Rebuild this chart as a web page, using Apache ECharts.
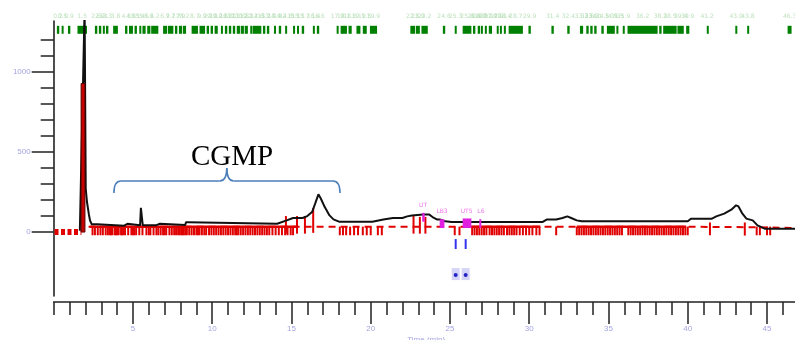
<!DOCTYPE html>
<html>
<head>
<meta charset="utf-8">
<script src="https://cdn.jsdelivr.net/npm/echarts@6/dist/echarts.min.js"></script>
<style>
html, body { margin: 0; padding: 0; background: #fff; }
#chart { width: 795px; height: 340px; }
</style>
</head>
<body>
<div id="chart"></div>
<script>
// detector trace, [time (min), signal]
var trace = [
  [1.65, 8], [1.72, 12], [1.95, 1400], [2.02, 272], [2.08, 272], [2.1, 188], [2.18, 188], [2.22, 110],
  [2.29, 73], [2.4, 48], [2.75, 48], [2.8, 40], [4.45, 40], [4.5, 52], [4.65, 52], [4.7, 42],
  [5.45, 42], [5.5, 152], [5.58, 140], [5.62, 42], [6.45, 42], [6.5, 52], [6.7, 52], [6.75, 44],
  [8.3, 44], [8.35, 62], [8.5, 62], [8.55, 52], [14.1, 52], [14.7, 73], [15.1, 88], [15.7, 88],
  [16.0, 100], [16.3, 125], [16.5, 179], [16.7, 236], [16.85, 210], [17.1, 156], [17.4, 104],
  [17.65, 79], [18.0, 65], [20.1, 65], [20.15, 73], [20.8, 79], [21.4, 88], [22.0, 88], [22.3, 98],
  [22.6, 104], [23.3, 109], [23.7, 109], [23.9, 94], [24.2, 78], [24.4, 78], [24.7, 67], [25.1, 63],
  [30.85, 63], [31.1, 78], [31.7, 78], [32.1, 88], [32.4, 98], [32.65, 88], [33.0, 73], [33.3, 67],
  [35.9, 67], [36.0, 76], [36.1, 67], [40.0, 67], [40.2, 83], [41.5, 83], [41.8, 98], [42.3, 115],
  [42.75, 140], [43.05, 167], [43.2, 160], [43.45, 115], [43.7, 84], [44.1, 73], [44.4, 42],
  [44.85, 21], [47, 21]
];

// integrated first peak: [start, end, height]
var mainPeak = [[1.73, 1.97, 929]];

// red baselines
var baseLeft = [[0.05, 0], [1.75, 0]];
var baseDashed = [[2.2, 33], [40, 33], [44.5, 30], [47, 25]];
var baseSolid = [[2.3, 33], [15.3, 33], [15.31, '-'], [26.3, 33], [30.7, 33], [30.71, '-'], [33.0, 33], [39.9, 33]];

// peak start / stop marks
var shortTicks = [
  2.45, 2.6, 2.78, 2.95, 3.1, 3.28, 3.42, 3.55, 3.62, 3.7, 3.85, 3.92, 4.0, 4.1, 4.25, 4.3, 4.38, 4.5,
  4.7, 4.9, 5.0, 5.08, 5.2, 5.4, 5.6, 5.85, 6.0, 6.1, 6.3, 6.48, 6.6, 6.75, 6.9, 7.0, 7.1, 7.3, 7.45,
  7.6, 7.72, 7.85, 7.95, 8.05, 8.12, 8.2, 8.3, 8.4, 8.55, 8.7, 8.85, 9.0, 9.1, 9.2, 9.35, 9.5, 9.62,
  9.8, 9.95, 10.1, 10.25, 10.4, 10.55, 10.7, 10.85, 11.0, 11.15, 11.3, 11.45, 11.55, 11.65, 11.8,
  11.95, 12.1, 12.25, 12.4, 12.55, 12.7, 12.85, 13.0, 13.15, 13.3, 13.45, 13.6, 13.8, 14.0, 14.2,
  14.4, 14.6, 14.75, 14.95, 15.1,
  18.05, 18.25, 18.45, 18.7, 18.95, 19.2, 19.5, 19.75, 20.0, 20.45, 20.7,
  25.3, 25.6,
  26.4, 26.55, 26.7, 26.85, 27.0, 27.15, 27.3, 27.5, 27.65, 27.8, 27.95, 28.1, 28.25, 28.4, 28.6,
  28.75, 28.9, 29.05, 29.2, 29.4, 29.6, 29.8, 30.0, 30.2, 30.45, 30.65, 31.7,
  33.0, 33.15, 33.3, 33.45, 33.6, 33.75, 33.9, 34.05, 34.2, 34.35, 34.5, 34.65, 34.8, 34.95, 35.1,
  35.25, 35.4, 35.55, 35.7, 35.85, 36.25, 36.4, 36.55, 36.7, 36.85, 37.0, 37.15, 37.3, 37.45, 37.6,
  37.75, 37.9, 38.05, 38.2, 38.35, 38.5, 38.65, 38.8, 38.95, 39.1, 39.25, 39.4, 39.55, 39.7, 39.85,
  40.0, 44.35, 44.55, 45.0, 45.2
];
var tallTicks = [
  [14.65, 100, -10], [15.35, 100, -10], [15.85, 100, -10], [16.37, 150, -5],
  [22.7, 100, -10], [23.1, 95, -10], [23.45, 95, -10], [41.4, 60, -20], [43.6, 60, -22]
];

// identified peaks (top row)
var greenBars = [
  [0.2, 0.35], [0.5, 0.6], [0.9, 1.05], [1.5, 2.1], [2.6, 2.75], [2.85, 3.0], [3.1, 3.2], [3.3, 3.45],
  [3.75, 4.05], [4.5, 4.65], [4.75, 5.0], [5.1, 5.25], [5.4, 5.5], [5.6, 5.8], [5.9, 6.1], [6.15, 6.6],
  [6.9, 7.15], [7.2, 7.55], [7.65, 7.8], [7.9, 8.1], [8.15, 8.35], [8.7, 9.1], [9.2, 9.55], [9.65, 9.8],
  [9.9, 10.05], [10.15, 10.35], [10.55, 10.6], [10.8, 10.95], [11.05, 11.2], [11.3, 11.45],
  [11.55, 11.75], [11.8, 12.0], [12.05, 12.25], [12.4, 12.5], [12.55, 13.1], [13.2, 13.35],
  [13.45, 13.6], [13.9, 13.95], [14.2, 14.35], [14.6, 14.7], [15.1, 15.2], [15.35, 15.45],
  [15.65, 15.8], [16.35, 16.45], [16.6, 16.75], [17.85, 17.95], [18.1, 18.5], [18.6, 18.8],
  [19.1, 19.35], [19.5, 19.75], [19.95, 20.4],
  [22.5, 22.8], [22.85, 23.1], [23.2, 23.6], [24.55, 24.7], [25.3, 25.4], [25.8, 26.35],
  [26.45, 26.6], [26.75, 26.9], [26.95, 27.05], [27.2, 27.3], [27.45, 27.65], [27.95, 28.0],
  [28.15, 28.25], [28.4, 28.5], [28.7, 29.6], [29.95, 30.1], [31.4, 31.55], [32.4, 32.55],
  [33.2, 33.4], [33.6, 33.75], [33.85, 34.0], [34.1, 34.25], [34.55, 34.7], [34.9, 35.4],
  [35.5, 35.6], [35.9, 36.0], [36.2, 38.1], [38.2, 38.35], [38.45, 39.3], [39.35, 39.75],
  [39.9, 40.1], [41.2, 41.25], [43.0, 43.1], [43.75, 43.85], [46.3, 46.55]
];

// named peaks (magenta) and markers (blue)
var magentaMarks = [[23.25, 23.4, 65, 120], [24.35, 24.65, 25, 80], [25.8, 26.35, 25, 85], [26.85, 26.95, 25, 80]];
var magentaLabels = [[23.3, 165, 'UT'], [24.5, 128, 'LB3'], [26.05, 128, 'UT5'], [26.95, 128, 'L6']];
var blueMarks = [25.36, 25.99];

// annotation: [start, tip, end, base, bar, top]
var brace = [[3.8, 10.92, 18.06, 244, 319, 400]];
var braceLabel = [[11.25, 469, 'CGMP']];

var AX = '#222';
var LAB = '#a4a4e4';

var dom = document.getElementById('chart');
var myChart = echarts.init(dom, null, { renderer: 'canvas' });

function tickLine(x, top, bottom, api, w) {
  var a = api.coord([x, top]);
  var b = api.coord([x, bottom]);
  return { type: 'line', shape: { x1: a[0], y1: a[1], x2: b[0], y2: b[1] }, style: { stroke: '#e00000', lineWidth: w } };
}

var option = {
  animation: false,
  grid: [
    { left: 53.7, right: -3.7, top: 21, bottom: 44, outerBoundsMode: 'none', containLabel: false },
    { left: 53.7, right: -3.7, top: 40.2, bottom: 107.95, outerBoundsMode: 'none', containLabel: false },
    { left: 53.7, right: -3.7, top: 72.17, bottom: 107.95, outerBoundsMode: 'none', containLabel: false }
  ],
  xAxis: [
    {
      type: 'value', gridIndex: 0, min: 0, max: 47, interval: 1, position: 'bottom', offset: 6,
      axisLine: { show: true, onZero: false, lineStyle: { color: AX, width: 1.6 } },
      axisTick: { show: true, length: 13, lineStyle: { color: AX, width: 1.5 } },
      axisLabel: { show: false }, splitLine: { show: false }
    },
    {
      type: 'value', gridIndex: 0, min: 0, max: 47, interval: 5, position: 'bottom', offset: 6,
      axisLine: { show: false, onZero: false },
      axisTick: { show: true, length: 22, lineStyle: { color: AX, width: 1.5 } },
      axisLabel: { show: true, margin: 23, color: LAB, fontSize: 8, fontFamily: 'Liberation Sans', showMinLabel: false, showMaxLabel: false },
      splitLine: { show: false },
      name: 'Time (min)', nameLocation: 'middle', nameGap: 34, nameMoveOverlap: false,
      nameTextStyle: { color: LAB, fontSize: 8, fontFamily: 'Liberation Sans' }
    },
    { type: 'value', gridIndex: 1, min: 0, max: 47, show: false },
    { type: 'value', gridIndex: 2, min: 0, max: 47, show: false }
  ],
  yAxis: [
    {
      type: 'value', gridIndex: 0, min: -400, max: 1320,
      axisLine: { show: true, onZero: false, lineStyle: { color: AX, width: 1.6 } },
      axisTick: { show: false }, axisLabel: { show: false }, splitLine: { show: false }
    },
    {
      type: 'value', gridIndex: 1, min: 0, max: 1200, interval: 100,
      axisLine: { show: false, onZero: false },
      axisTick: { show: true, length: 13, lineStyle: { color: AX, width: 1.5 } },
      axisLabel: { show: false }, splitLine: { show: false }
    },
    {
      type: 'value', gridIndex: 2, min: 0, max: 1000, interval: 500,
      axisLine: { show: false, onZero: false },
      axisTick: { show: true, length: 22, lineStyle: { color: AX, width: 1.5 } },
      axisLabel: { show: true, margin: 23, color: LAB, fontSize: 8, fontFamily: 'Liberation Sans',
        formatter: function (v) { return String(v); } },
      splitLine: { show: false }
    }
  ],
  series: [
    {
      name: 'baseline-left', type: 'line', data: baseLeft, symbol: 'none', z: 3,
      lineStyle: { color: '#e00000', width: 6, type: [4, 2.5] }
    },
    {
      name: 'baseline', type: 'line', data: baseDashed, symbol: 'none', z: 3,
      lineStyle: { color: '#e00000', width: 2, type: [7, 5] }
    },
    {
      name: 'baseline-solid', type: 'line', data: baseSolid, symbol: 'none', z: 3, connectNulls: false,
      lineStyle: { color: '#e00000', width: 2.5 }
    },
    {
      name: 'ticks', type: 'custom', data: shortTicks.map(function (t) { return [t]; }), z: 3,
      renderItem: function (params, api) { return tickLine(api.value(0), 34, -20, api, 2); }
    },
    {
      name: 'tall-ticks', type: 'custom', data: tallTicks, z: 3,
      renderItem: function (params, api) { return tickLine(api.value(0), api.value(1), api.value(2), api, 2); }
    },
    {
      name: 'trace', type: 'line', data: trace, symbol: 'none', z: 5, clip: true,
      lineStyle: { color: '#111', width: 2 }
    },
    {
      name: 'peak', type: 'custom', data: mainPeak, z: 6,
      renderItem: function (params, api) {
        var a = api.coord([api.value(0), api.value(2)]);
        var b = api.coord([api.value(1), 0]);
        return { type: 'rect', shape: { x: a[0], y: a[1], width: b[0] - a[0], height: b[1] - a[1] },
          style: { fill: '#c80000', stroke: '#5a0000', lineWidth: 1 } };
      }
    },
    {
      name: 'ids', type: 'custom', data: greenBars, z: 4,
      renderItem: function (params, api) {
        var a = api.coord([api.value(0), 1290]);
        var b = api.coord([api.value(1), 1240]);
        var lab = api.coord([(api.value(0) + api.value(1)) / 2, 1348]);
        return { type: 'group', children: [
          { type: 'rect', shape: { x: a[0], y: a[1], width: Math.max(b[0] - a[0], 2), height: b[1] - a[1] },
            style: { fill: '#008000' } },
          { type: 'text', x: lab[0], y: lab[1],
            style: { text: api.value(0).toFixed(1), fill: '#bfe2bf', fontSize: 6, fontFamily: 'DejaVu Sans',
              align: 'center', verticalAlign: 'middle' } }
        ] };
      }
    },
    {
      name: 'named', type: 'custom', data: magentaMarks, z: 6,
      renderItem: function (params, api) {
        var a = api.coord([api.value(0), api.value(3)]);
        var b = api.coord([api.value(1), api.value(2)]);
        return { type: 'rect', shape: { x: a[0], y: a[1], width: Math.max(b[0] - a[0], 2), height: b[1] - a[1] },
          style: { fill: '#e020e0' } };
      }
    },
    {
      name: 'named-labels', type: 'custom', data: magentaLabels, z: 6,
      renderItem: function (params, api) {
        var p = api.coord([api.value(0), api.value(1)]);
        return { type: 'text', x: p[0], y: p[1],
          style: { text: magentaLabels[params.dataIndex][2], fill: '#ee77ee', fontSize: 6, fontFamily: 'DejaVu Sans',
            align: 'center', verticalAlign: 'middle' } };
      }
    },
    {
      name: 'markers', type: 'custom', data: blueMarks.map(function (t) { return [t]; }), z: 6,
      renderItem: function (params, api) {
        var a = api.coord([api.value(0), -44]);
        var b = api.coord([api.value(0), -106]);
        var c = api.coord([api.value(0), -263]);
        return { type: 'group', children: [
          { type: 'line', shape: { x1: a[0], y1: a[1], x2: b[0], y2: b[1] }, style: { stroke: '#3333ee', lineWidth: 2 } },
          { type: 'rect', shape: { x: c[0] - 4, y: c[1] - 6, width: 8, height: 12 }, style: { fill: '#d4d4f6' } },
          { type: 'circle', shape: { cx: c[0], cy: c[1] + 1, r: 2 }, style: { fill: '#2424c8' } }
        ] };
      }
    },
    {
      name: 'brace', type: 'custom', data: brace, z: 7,
      renderItem: function (params, api) {
        var x0 = api.coord([api.value(0), 0])[0];
        var xc = api.coord([api.value(1), 0])[0];
        var x1 = api.coord([api.value(2), 0])[0];
        var yb = api.coord([0, api.value(3)])[1];
        var ym = api.coord([0, api.value(4)])[1];
        var yt = api.coord([0, api.value(5)])[1];
        var r = 7;
        var st = { stroke: '#4a7ebb', lineWidth: 1.6, fill: null };
        return { type: 'group', children: [
          { type: 'bezierCurve', shape: { x1: x0, y1: yb, x2: x0 + r, y2: ym, cpx1: x0, cpy1: ym }, style: st },
          { type: 'line', shape: { x1: x0 + r, y1: ym, x2: xc - r, y2: ym }, style: st },
          { type: 'bezierCurve', shape: { x1: xc - r, y1: ym, x2: xc, y2: yt, cpx1: xc, cpy1: ym }, style: st },
          { type: 'bezierCurve', shape: { x1: xc, y1: yt, x2: xc + r, y2: ym, cpx1: xc, cpy1: ym }, style: st },
          { type: 'line', shape: { x1: xc + r, y1: ym, x2: x1 - r, y2: ym }, style: st },
          { type: 'bezierCurve', shape: { x1: x1 - r, y1: ym, x2: x1, y2: yb, cpx1: x1, cpy1: ym }, style: st }
        ] };
      }
    },
    {
      name: 'brace-label', type: 'custom', data: braceLabel, z: 7,
      renderItem: function (params, api) {
        var p = api.coord([api.value(0), api.value(1)]);
        return { type: 'text', x: p[0], y: p[1],
          style: { text: braceLabel[params.dataIndex][2], fill: '#000', fontSize: 29,
            fontFamily: 'Liberation Serif', align: 'center', verticalAlign: 'middle' } };
      }
    }
  ]
};

if (option && typeof option === 'object') {
  myChart.setOption(option);
}

window.addEventListener('resize', myChart.resize);
</script>
</body>
</html>
